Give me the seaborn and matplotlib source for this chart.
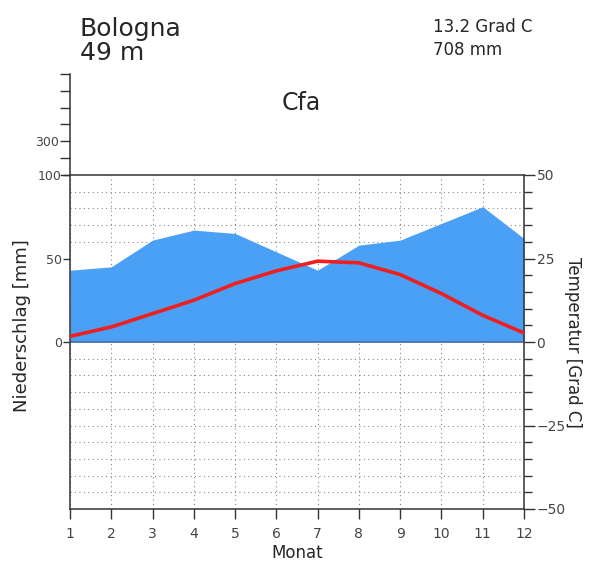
import numpy as np
import matplotlib
matplotlib.use("Agg")
import matplotlib.pyplot as plt
import seaborn as sns

# Bologna climate data
months = [1, 2, 3, 4, 5, 6, 7, 8, 9, 10, 11, 12]
precip_mm = [43, 45, 61, 67, 65, 54, 43, 58, 61, 71, 81, 62]
temp_c = [1.7, 4.5, 8.5, 12.5, 17.5, 21.3, 24.2, 23.7, 20.2, 14.5, 8.0, 2.7]

station = "Bologna"
elevation = "49 m"
mean_temp = "13.2 Grad C"
annual_precip = "708 mm"
climate_class = "Cfa"

upper_ticks = [100, 200, 300, 400, 500, 600, 700]
upper_labels = ["", "", "300", "", "", "", ""]

sns.set_style("white")
plt.rcParams["font.family"] = ["DejaVu Sans"]

blue = "#4aa0f5"
red = "#f01e1e"
frame = "#333333"
dots = dict(linestyle=(0, (1, 3)), color="#888888", linewidth=0.8)

fig = plt.figure(figsize=(5.89, 5.65), dpi=100)
W, H = 589, 565
x0, x1, ytop, ybot = 70, 524, 175, 509
ax = fig.add_axes([x0 / W, 1 - ybot / H, (x1 - x0) / W, (ybot - ytop) / H])

# precipitation area (mm scale, 2 mm = 1 Grad C)
ax.fill_between(months, 0, precip_mm, color=blue, linewidth=0, zorder=1)
ax.set_xlim(1, 12)
ax.set_ylim(-100, 100)
ax.set_xticks(months)
ax.set_xticklabels([str(m) for m in months])
ax.set_yticks([0, 50, 100])
ax.set_yticks(np.arange(-90, 100, 10), minor=True)
ax.grid(axis="y", which="minor", **dots)
ax.grid(axis="x", which="major", **dots)
ax.grid(axis="y", which="major", visible=False)
ax.axhline(0, color="#4a6fa0", linewidth=1.2, zorder=2)
ax.tick_params(axis="y", which="major", left=True, length=5, width=1,
               color=frame, labelsize=9, labelcolor="#444444", pad=1)
ax.tick_params(axis="y", which="minor", left=False, length=0)
ax.tick_params(axis="x", which="major", bottom=True, length=7, width=1,
               color=frame, labelsize=10, labelcolor="#444444", pad=6)
for s in ax.spines.values():
    s.set_color(frame)
    s.set_linewidth(1.1)
ax.set_ylabel("Niederschlag [mm]", fontsize=13)
ax.yaxis.set_label_coords((31 - x0) / (x1 - x0), (ybot - 326) / (ybot - ytop))
ax.set_xlabel("Monat", fontsize=12, labelpad=2)

# temperature on twin axis
ax2 = ax.twinx()
sns.lineplot(x=months, y=temp_c, color=red, linewidth=2.6, ax=ax2, zorder=5)
ax2.set_ylim(-50, 50)
ax2.set_xlim(1, 12)
ax2.set_yticks([-50, -25, 0, 25, 50])
ax2.set_yticklabels(["\u221250", "\u221225", "0", "25", "50"])
ax2.set_yticks(np.arange(-45, 50, 5), minor=True)
ax2.tick_params(axis="y", which="major", right=True, length=8, width=1,
                color=frame, labelsize=10, labelcolor="#444444", pad=1)
ax2.tick_params(axis="y", which="minor", right=True, length=6, width=1, color=frame)
ax2.grid(False)
for s in ax2.spines.values():
    s.set_visible(False)
ax2.set_ylabel("Temperatur [Grad C]", fontsize=12, rotation=-90, labelpad=12)

# compressed precipitation scale above 100 mm
uy = 74
axu = fig.add_axes([x0 / W, 1 - ytop / H, 0.001, (ytop - uy) / H])
axu.set_ylim(100, 700)
axu.set_xticks([])
axu.set_yticks(upper_ticks)
axu.set_yticklabels(upper_labels)
axu.tick_params(axis="y", left=True, length=7, width=1, color=frame,
                labelsize=9, labelcolor="#444444", pad=1)
axu.patch.set_visible(False)
for k, s in axu.spines.items():
    s.set_visible(k == "left")
axu.spines["left"].set_color(frame)
axu.spines["left"].set_linewidth(1.1)

# header texts
fig.text(80 / W, 1 - 36 / H, station, fontsize=18, ha="left", va="baseline")
fig.text(80 / W, 1 - 60 / H, elevation, fontsize=18, ha="left", va="baseline")
fig.text(433 / W, 1 - 32 / H, mean_temp, fontsize=12, ha="left", va="baseline")
fig.text(433 / W, 1 - 55 / H, annual_precip, fontsize=12, ha="left", va="baseline")
fig.text(301 / W, 1 - 103 / H, climate_class, fontsize=17, ha="center", va="center")

fig.savefig("out.png", dpi=100)
